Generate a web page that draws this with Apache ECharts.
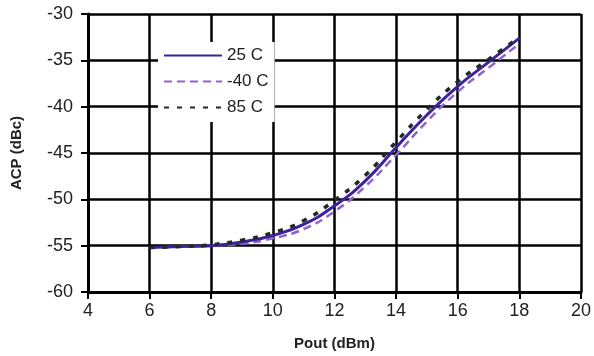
<!DOCTYPE html>
<html>
<head>
<meta charset="utf-8">
<script src="https://cdn.jsdelivr.net/npm/echarts@6/dist/echarts.min.js"></script>
<style>
  html, body { margin: 0; padding: 0; background: #fff; }
  #chart { width: 594px; height: 356px; }
</style>
</head>
<body>
<div id="chart"></div>
<script>
// Pout (dBm)
const pout = [6, 7, 8, 9, 10, 11, 12, 13, 14, 15, 16, 17, 18]
// ACP (dBc) per temperature
const acp25 = [-55.2, -55.1, -55.0, -54.6, -53.9, -52.7, -50.7, -48.0, -44.4, -40.9, -37.8, -35.2, -32.6]
const acpMinus40 = [-55.2, -55.1, -55.0, -54.8, -54.2, -53.2, -51.3, -48.6, -45.2, -41.6, -38.4, -35.8, -33.2]
const acp85 = [-55.2, -55.1, -54.9, -54.4, -53.6, -52.3, -50.1, -47.4, -43.8, -40.3, -37.3, -34.9, -32.5]
const seriesNames = ['25 C', '-40 C', '85 C']

const pair = (ys) => pout.map((x, i) => [x, ys[i]])

const chart = echarts.init(document.getElementById('chart'))
const font = 'Liberation Sans, Arial, sans-serif'
const axisText = { color: '#222', fontSize: 18, fontFamily: font }

chart.setOption({
  animation: false,
  grid: { left: 88, right: 11, top: 14, bottom: 61 },
  legend: {
    data: seriesNames,
    orient: 'vertical',
    left: 158,
    top: 42,
    padding: [5, 6, 6, 5],
    itemGap: 9,
    itemWidth: 58,
    itemHeight: 20,
    backgroundColor: '#fff',
    // hide the symbol drawn on top of the legend line
    itemStyle: { opacity: 0 },
    textStyle: { color: '#222', fontSize: 17, fontFamily: font },
  },
  xAxis: {
    type: 'value',
    min: 4,
    max: 20,
    interval: 2,
    name: 'Pout (dBm)',
    nameLocation: 'middle',
    nameGap: 44,
    nameTextStyle: { color: '#222', fontSize: 15, fontWeight: 'bold', fontFamily: font },
    axisLine: { lineStyle: { color: '#000', width: 3 } },
    axisTick: { length: 7, lineStyle: { color: '#000', width: 2 } },
    axisLabel: { ...axisText, margin: 10 },
    splitLine: { lineStyle: { color: '#000', width: 2.5 } },
  },
  yAxis: {
    type: 'value',
    min: -60,
    max: -30,
    interval: 5,
    name: 'ACP (dBc)',
    nameLocation: 'middle',
    nameGap: 64,
    nameTextStyle: { color: '#222', fontSize: 15, fontWeight: 'bold', fontFamily: font },
    axisLine: { show: true, lineStyle: { color: '#000', width: 3 } },
    axisTick: { show: true, length: 7, lineStyle: { color: '#000', width: 2 } },
    axisLabel: { ...axisText, margin: 15 },
    splitLine: { lineStyle: { color: '#000', width: 2.5 } },
  },
  series: [
    {
      name: '-40 C',
      type: 'line',
      smooth: true,
      symbol: 'none',
      data: pair(acpMinus40),
      lineStyle: { color: '#8f63d6', width: 2.5, type: [8, 5] },
      itemStyle: { color: '#8f63d6' },
      z: 2,
    },
    {
      name: '25 C',
      type: 'line',
      smooth: true,
      symbol: 'none',
      data: pair(acp25),
      lineStyle: { color: '#3d22a0', width: 3 },
      itemStyle: { color: '#3d22a0' },
      z: 3,
    },
    {
      name: '85 C',
      type: 'line',
      smooth: true,
      symbol: 'none',
      data: pair(acp85),
      lineStyle: { color: '#1e2a22', width: 3.5, type: [5, 8] },
      itemStyle: { color: '#1e2a22' },
      z: 4,
    },
  ],
})
</script>
</body>
</html>
